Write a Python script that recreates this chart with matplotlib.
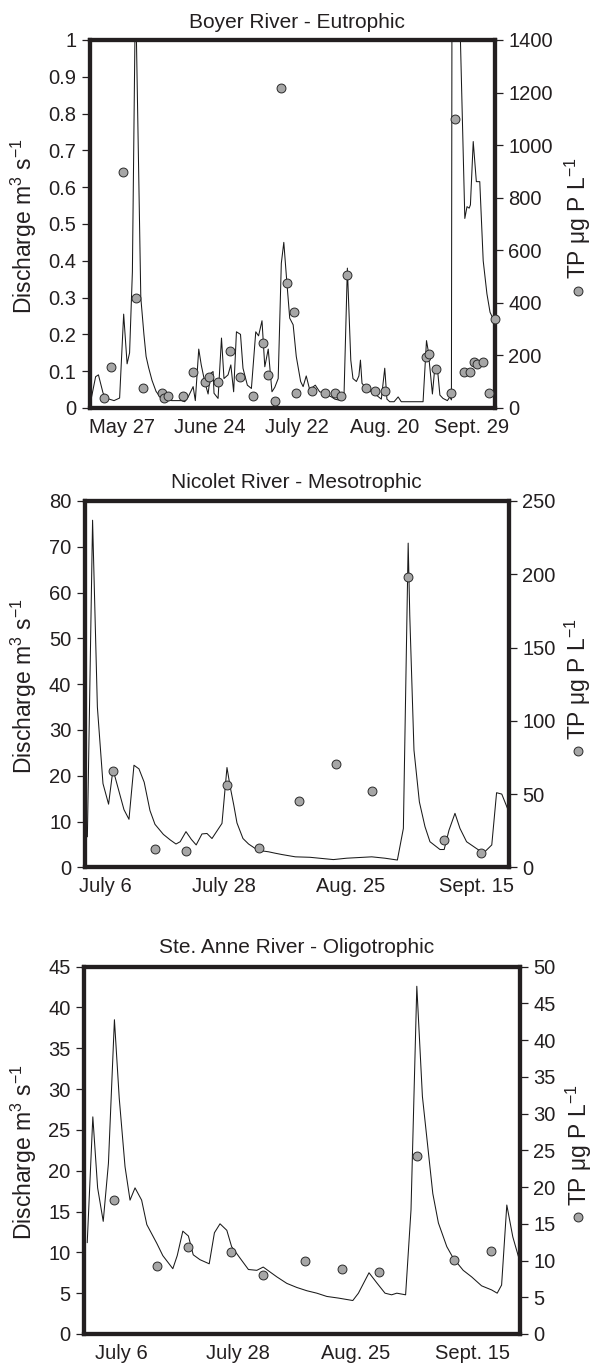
import numpy as np
import matplotlib
matplotlib.use('Agg')
import matplotlib.pyplot as plt

plt.rcParams['font.family'] = ['Liberation Sans', 'DejaVu Sans']
plt.rcParams['mathtext.default'] = 'regular'

# Boyer River - Eutrophic
boyer_q_day = [0.5, 1.8, 2.7, 4.2, 5.8, 7.7, 9.5, 10.8, 11.9, 12.7,
               13.6, 14.6, 16.3, 17.3, 18.0, 18.8, 19.9, 21.2, 22.5, 24.4,
               26.3, 28.3, 29.3, 30.4, 31.5, 33.1, 33.8, 34.9, 35.7, 36.8,
               37.9, 38.7, 39.5, 39.8, 41.1, 42.2, 43.0, 44.3, 45.2, 46.1,
               47.0, 48.3, 49.1, 50.5, 51.8, 53.2, 54.1, 55.2, 56.1, 57.2,
               58.4, 59.3, 60.4, 61.4, 62.2, 63.1, 64.1, 65.2, 66.2, 67.6,
               68.4, 69.4, 70.5, 72.3, 73.7, 75.3, 77.5, 78.6, 79.6, 80.7,
               81.5, 82.6, 83.7, 84.4, 85.5, 86.3, 86.8, 87.3, 88.7, 90.3,
               91.9, 93.5, 94.6, 95.3, 96.2, 97.6, 98.9, 99.9, 102.1, 104.8,
               106.9, 108.0, 108.5, 109.1, 109.9, 110.7, 111.5, 112.3, 113.3, 114.7,
               115.5, 116.0, 116.4, 118.6, 120.3, 121.0, 121.7, 122.1, 123.0, 124.0,
               125.1, 126.2, 127.4, 128.4, 129.3, 130.0]
boyer_q = [0.03, 0.085, 0.09, 0.04, 0.025, 0.02, 0.027, 0.255, 0.12, 0.15,
           0.37, 1.15, 0.3, 0.2, 0.14, 0.11, 0.075, 0.045, 0.03, 0.022,
           0.02, 0.02, 0.02, 0.017, 0.03, 0.058, 0.02, 0.16, 0.117, 0.072,
           0.038, 0.094, 0.099, 0.04, 0.026, 0.19, 0.08, 0.09, 0.117, 0.044,
           0.207, 0.2, 0.108, 0.062, 0.053, 0.207, 0.196, 0.237, 0.112, 0.16,
           0.044, 0.056, 0.08, 0.393, 0.45, 0.35, 0.244, 0.226, 0.14, 0.072,
           0.058, 0.087, 0.05, 0.062, 0.044, 0.04, 0.03, 0.024, 0.022, 0.022,
           0.026, 0.38, 0.13, 0.08, 0.072, 0.087, 0.13, 0.067, 0.053, 0.044,
           0.035, 0.024, 0.108, 0.024, 0.017, 0.017, 0.03, 0.017, 0.017, 0.017,
           0.017, 0.183, 0.158, 0.108, 0.038, 0.112, 0.108, 0.035, 0.026, 0.02,
           0.03, 0.022, 2.5, 1.1, 0.515, 0.547, 0.543, 0.552, 0.724, 0.615,
           0.615, 0.40, 0.31, 0.26, 0.244, 0.26]
boyer_tp_day = [4.6, 6.6, 10.7, 14.8, 16.9, 23.0, 23.8, 24.9, 29.9, 33.0,
                37.0, 38.1, 41.1, 45.0, 48.2, 52.3, 55.4, 57.2, 59.4, 61.3,
                63.3, 65.5, 66.2, 71.4, 75.5, 78.6, 80.5, 82.6, 88.7, 91.6,
                94.8, 107.8, 108.8, 111.0, 116.0, 117.1, 120.1, 122.1, 123.2, 124.2,
                126.2, 128.1, 129.9]
boyer_tp = [37, 157, 897, 417, 77, 56, 37, 47, 47, 138,
            98, 117, 98, 217, 117, 47, 246, 126, 27, 1216,
            477, 367, 56, 66, 56, 56, 47, 506, 77, 66,
            66, 195, 205, 147, 56, 1100, 136, 136, 176, 166,
            176, 56, 337]
boyer_ticks = [10.2, 38.3, 66.3, 94.6, 122.5]
boyer_labels = ['May 27', 'June 24', 'July 22', 'Aug. 20', 'Sept. 29']

# Nicolet River - Mesotrophic
nicolet_q_day = [0.6, 1.9, 3.1, 4.5, 5.9, 7.0, 9.75, 11.0, 12.25, 13.5,
                 14.8, 16.25, 17.5, 19.6, 21.3, 22.75, 23.8, 25.25, 26.6, 27.8,
                 29.25, 30.5, 31.75, 34.25, 35.5, 36.3, 37.2, 38.0, 39.5, 40.9,
                 42.6, 44.25, 45.9, 47.5, 49.25, 51.25, 52.6, 56.25, 62.1, 65.4,
                 71.7, 75.0, 78.1, 79.6, 80.8, 81.2, 82.25, 83.6, 85.0, 86.25,
                 88.75, 89.8, 91.0, 92.5, 93.75, 95.4, 97.9, 99.6, 101.7, 102.9,
                 104.2, 105.8]
nicolet_q = [6.7, 75.8, 35, 18.3, 13.8, 21.4, 12.6, 10.5, 22.3, 21.5,
             18.6, 12.4, 9.4, 7.2, 6.0, 5.1, 5.6, 7.8, 6.1, 4.9,
             7.3, 7.4, 6.3, 9.6, 21.8, 17.6, 13.6, 9.7, 6.3, 5.1,
             4.1, 3.6, 3.4, 3.1, 2.8, 2.5, 2.3, 2.2, 1.7, 2.0,
             2.3, 2.0, 1.6, 8.5, 70.8, 55, 25.6, 14.3, 8.9, 5.6,
             3.9, 3.9, 8.1, 11.8, 8.5, 5.6, 4.1, 3.1, 4.9, 16.3,
             16.0, 12.5]
nicolet_tp_day = [7.1, 17.4, 25.25, 35.6, 43.4, 53.5, 62.75, 71.8, 80.8, 89.8, 98.9]
nicolet_tp = [66, 12.5, 11, 56, 13.5, 45, 70.5, 52, 198, 18.5, 9.6]
nicolet_ticks = [5.1, 34.7, 66.45, 98.0]
nicolet_labels = ['July 6', 'July 28', 'Aug. 25', 'Sept. 15']

# Ste. Anne River - Oligotrophic
anne_q_day = [0.8, 2.2, 3.4, 4.8, 6.1, 7.6, 8.8, 10.25, 11.5, 12.75,
              14.4, 15.7, 18.2, 19.7, 22.2, 23.3, 24.7, 26.1, 27.3, 29.0,
              31.3, 32.6, 34.0, 35.7, 36.9, 39.0, 41.1, 43.2, 44.8, 48.2,
              50.7, 53.2, 55.7, 58.2, 60.7, 63.6, 67.2, 68.6, 71.25, 73.3,
              75.25, 76.9, 78.2, 80.4, 81.75, 83.2, 84.6, 87.2, 88.6, 90.7,
              92.3, 94.8, 96.9, 99.4, 101.9, 103.3, 104.4, 105.7, 107.2, 108.6,
              109.0]
anne_q = [11.2, 26.6, 17.9, 13.8, 20.9, 38.5, 28.9, 20.5, 16.4, 17.9,
          16.4, 13.4, 11.1, 9.6, 8.0, 9.6, 12.6, 12.0, 9.7, 9.1,
          8.6, 12.4, 13.5, 12.7, 10.7, 9.3, 7.9, 7.8, 8.2, 7.0,
          6.2, 5.7, 5.3, 5.0, 4.6, 4.4, 4.1, 5.0, 7.5, 6.2,
          5.0, 4.8, 5.0, 4.8, 15.2, 42.6, 29.1, 17.2, 13.6, 10.7,
          9.3, 7.8, 7.0, 5.9, 5.4, 5.0, 6.0, 15.8, 11.9, 9.5,
          9.0]
anne_tp_day = [7.5, 18.2, 26.1, 36.75, 44.8, 55.25, 64.6, 73.8, 83.2, 92.5, 101.75]
anne_tp = [18.2, 9.3, 11.9, 11.1, 8.0, 9.9, 8.9, 8.5, 24.2, 10.1, 11.3]
anne_ticks = [9.4, 38.55, 67.9, 97.1]
anne_labels = ['July 6', 'July 28', 'Aug. 25', 'Sept. 15']

INK = '#231f20'
DOT = '#a6a6a6'

fig = plt.figure(figsize=(5.93, 13.64), dpi=100)


def panel(rect, title, title_y, q_day, q, tp_day, tp, xmax, ticks, labels,
          qmax, qstep, tpmax, tpstep, qlab_x, tplab_x):
    ax = fig.add_axes(rect)
    ax.plot(q_day, q, color='#1a1a1a', lw=0.75, zorder=2)
    ax.set_xlim(0, xmax)
    ax.set_ylim(0, qmax)
    qt = np.round(np.arange(0, qmax + qstep / 2, qstep), 6)
    ax.set_yticks(qt, [f'{v:g}' for v in qt])
    ax.set_xticks(ticks, labels)
    ax.tick_params(axis='x', length=0, pad=7, labelsize=14.5, colors=INK)
    ax.tick_params(axis='y', direction='out', length=5.8, width=0.9,
                   pad=4, labelsize=14.5, colors=INK)

    # TP samples on the right-hand axis
    ax2 = ax.twinx()
    ax2.plot(tp_day, tp, 'o', ms=6.4, mfc=DOT, mec='#2a2a2a', mew=0.7,
             clip_on=False, zorder=4)
    ax2.set_ylim(0, tpmax)
    tt = np.arange(0, tpmax + tpstep / 2, tpstep)
    ax2.set_yticks(tt, [f'{v:g}' for v in tt])
    ax2.tick_params(axis='y', direction='out', length=5.5, width=0.9,
                    pad=4, labelsize=14.5, colors=INK)

    for a in (ax, ax2):
        for s in a.spines.values():
            s.set_linewidth(3)
            s.set_color(INK)

    ax.text(qlab_x, 0.495, 'Discharge m$^3$ s$^{-1}$', transform=ax.transAxes,
            rotation=90, ha='center', va='center', fontsize=16.5, color=INK)
    ax.text(tplab_x, 0.515, 'TP \u03bcg P L$^{-1}$', transform=ax.transAxes,
            rotation=90, ha='center', va='center', fontsize=16.5, color=INK)
    ax.plot([tplab_x], [0.318], 'o', transform=ax.transAxes, clip_on=False,
            ms=6.4, mfc=DOT, mec='#2a2a2a', mew=0.7)
    fig.text(0.5, title_y, title, ha='center', va='baseline', fontsize=15,
             color=INK)


panel([0.1518, 0.7009, 0.6830, 0.2698], 'Boyer River - Eutrophic', 0.9795,
      boyer_q_day, boyer_q, boyer_tp_day, boyer_tp, 130, boyer_ticks,
      boyer_labels, 1.0, 0.1, 1400, 200, -0.163, 1.205)
panel([0.1433, 0.3641, 0.7150, 0.2686], 'Nicolet River - Mesotrophic', 0.6422,
      nicolet_q_day, nicolet_q, nicolet_tp_day, nicolet_tp, 106, nicolet_ticks,
      nicolet_labels, 80, 10, 250, 50, -0.144, 1.163)
panel([0.1417, 0.0220, 0.7352, 0.2693], 'Ste. Anne River - Oligotrophic', 0.3013,
      anne_q_day, anne_q, anne_tp_day, anne_tp, 109, anne_ticks,
      anne_labels, 45, 5, 50, 5, -0.138, 1.134)

fig.savefig('out.png', dpi=100)
